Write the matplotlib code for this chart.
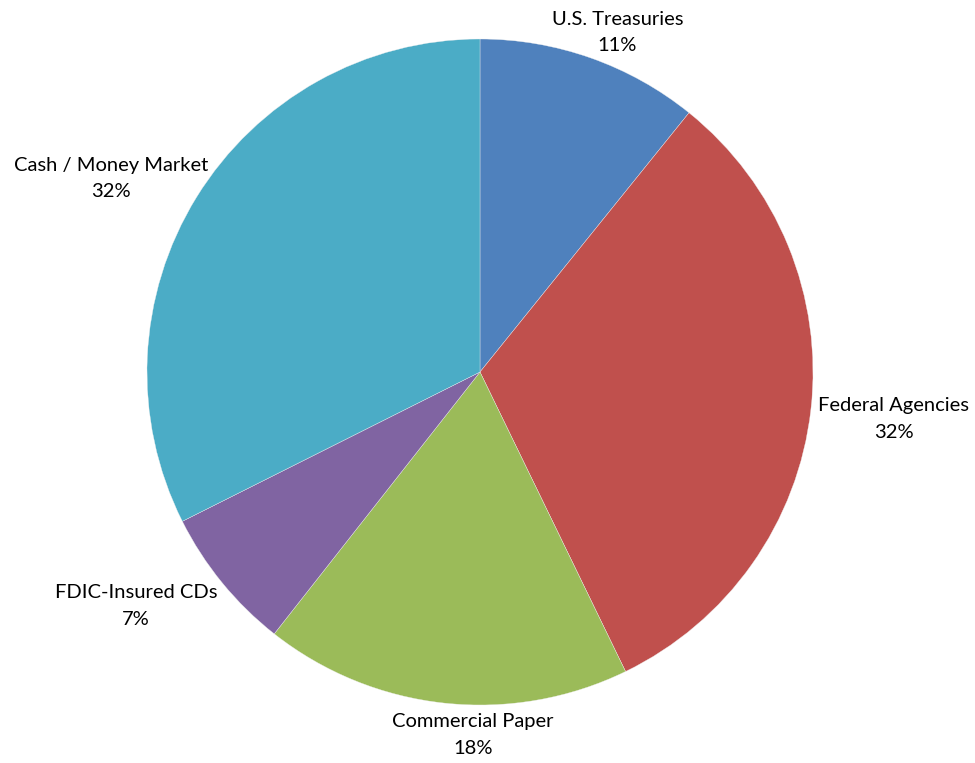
import matplotlib.pyplot as plt
import numpy as np

categorias = ['U.S. Treasuries', 'Federal Agencies', 'Commercial Paper',
              'FDIC-Insured CDs', 'Cash / Money Market']
porcentajes = [10.8, 32.0, 17.8, 7.0, 32.4]
colores = ['#4F81BD', '#C0504D', '#9BBB59', '#8064A2', '#4BACC6']

# ubicacion de las etiquetas (radio relativo y ajuste de angulo en grados)
dist_etiqueta = [1.10, 1.25, 1.09, 1.25, 1.25]
ajuste_angulo = [2.6, 0.0, -5.0, 5.0, -4.0]

plt.rcParams['font.family'] = ['Lato', 'DejaVu Sans']

fig = plt.figure(figsize=(9.75, 7.63), dpi=100)
ax = fig.add_axes([147/975, 58/763, 666/975, 666/763])

wedges, _ = ax.pie(porcentajes, colors=colores, startangle=90, counterclock=False,
                   wedgeprops=dict(edgecolor='#f0f0f0', linewidth=0.25))

total = sum(porcentajes)
acumulado = 0
for i, valor in enumerate(porcentajes):
    medio = (acumulado + valor/2)/total*360 + ajuste_angulo[i]
    acumulado += valor
    theta = np.radians(90 - medio)
    x = dist_etiqueta[i]*np.cos(theta)
    y = dist_etiqueta[i]*np.sin(theta)
    ax.text(x, y, '{0}\n{1:.0f}%'.format(categorias[i], valor/total*100),
            ha='center', va='center', fontsize=14.5, color='#000000', linespacing=1.68)

ax.set_xlim(-1, 1)
ax.set_ylim(-1, 1)
ax.set_aspect('equal')
ax.axis('off')

plt.savefig('out.png', dpi=100)
